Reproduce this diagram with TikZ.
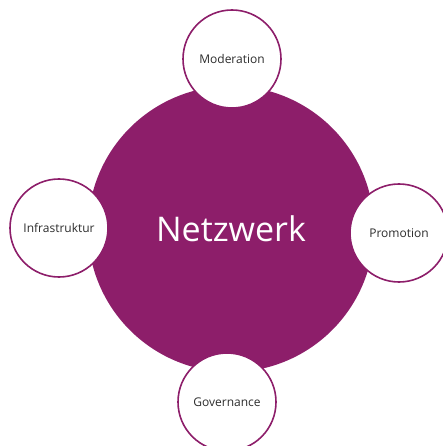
\documentclass[tikz,border=0pt]{standalone}
\usepackage{fontspec}
\setmainfont{Open Sans}
\usetikzlibrary{positioning}
\definecolor{netzlila}{RGB}{141,30,106}
\definecolor{textgrau}{RGB}{45,45,45}

\begin{document}
\begin{tikzpicture}[x=1pt,y=-1pt]
    \tikzstyle{kern}=[circle,fill=netzlila,text=white,minimum size=286pt,inner sep=0pt,font=\fontsize{34}{36}\selectfont]
    \tikzstyle{bereich}=[circle,draw=netzlila,line width=1.6pt,fill=white,text=textgrau,minimum size=98pt,inner sep=0pt,font=\fontsize{12}{14}\selectfont]

    \useasboundingbox (0,0) rectangle (443,446);
    \clip (0,0) rectangle (443,446);

    \node[kern] (N) at (231,229) {Netzwerk};

    \node[bereich] (M) at (232,59) {Moderation};
    \node[bereich] (I) at (59,228) {Infrastruktur};
    \node[bereich] (P) at (399,233) {Promotion};
    \node[bereich] (G) at (227,402) {Governance};
\end{tikzpicture}
\end{document}
